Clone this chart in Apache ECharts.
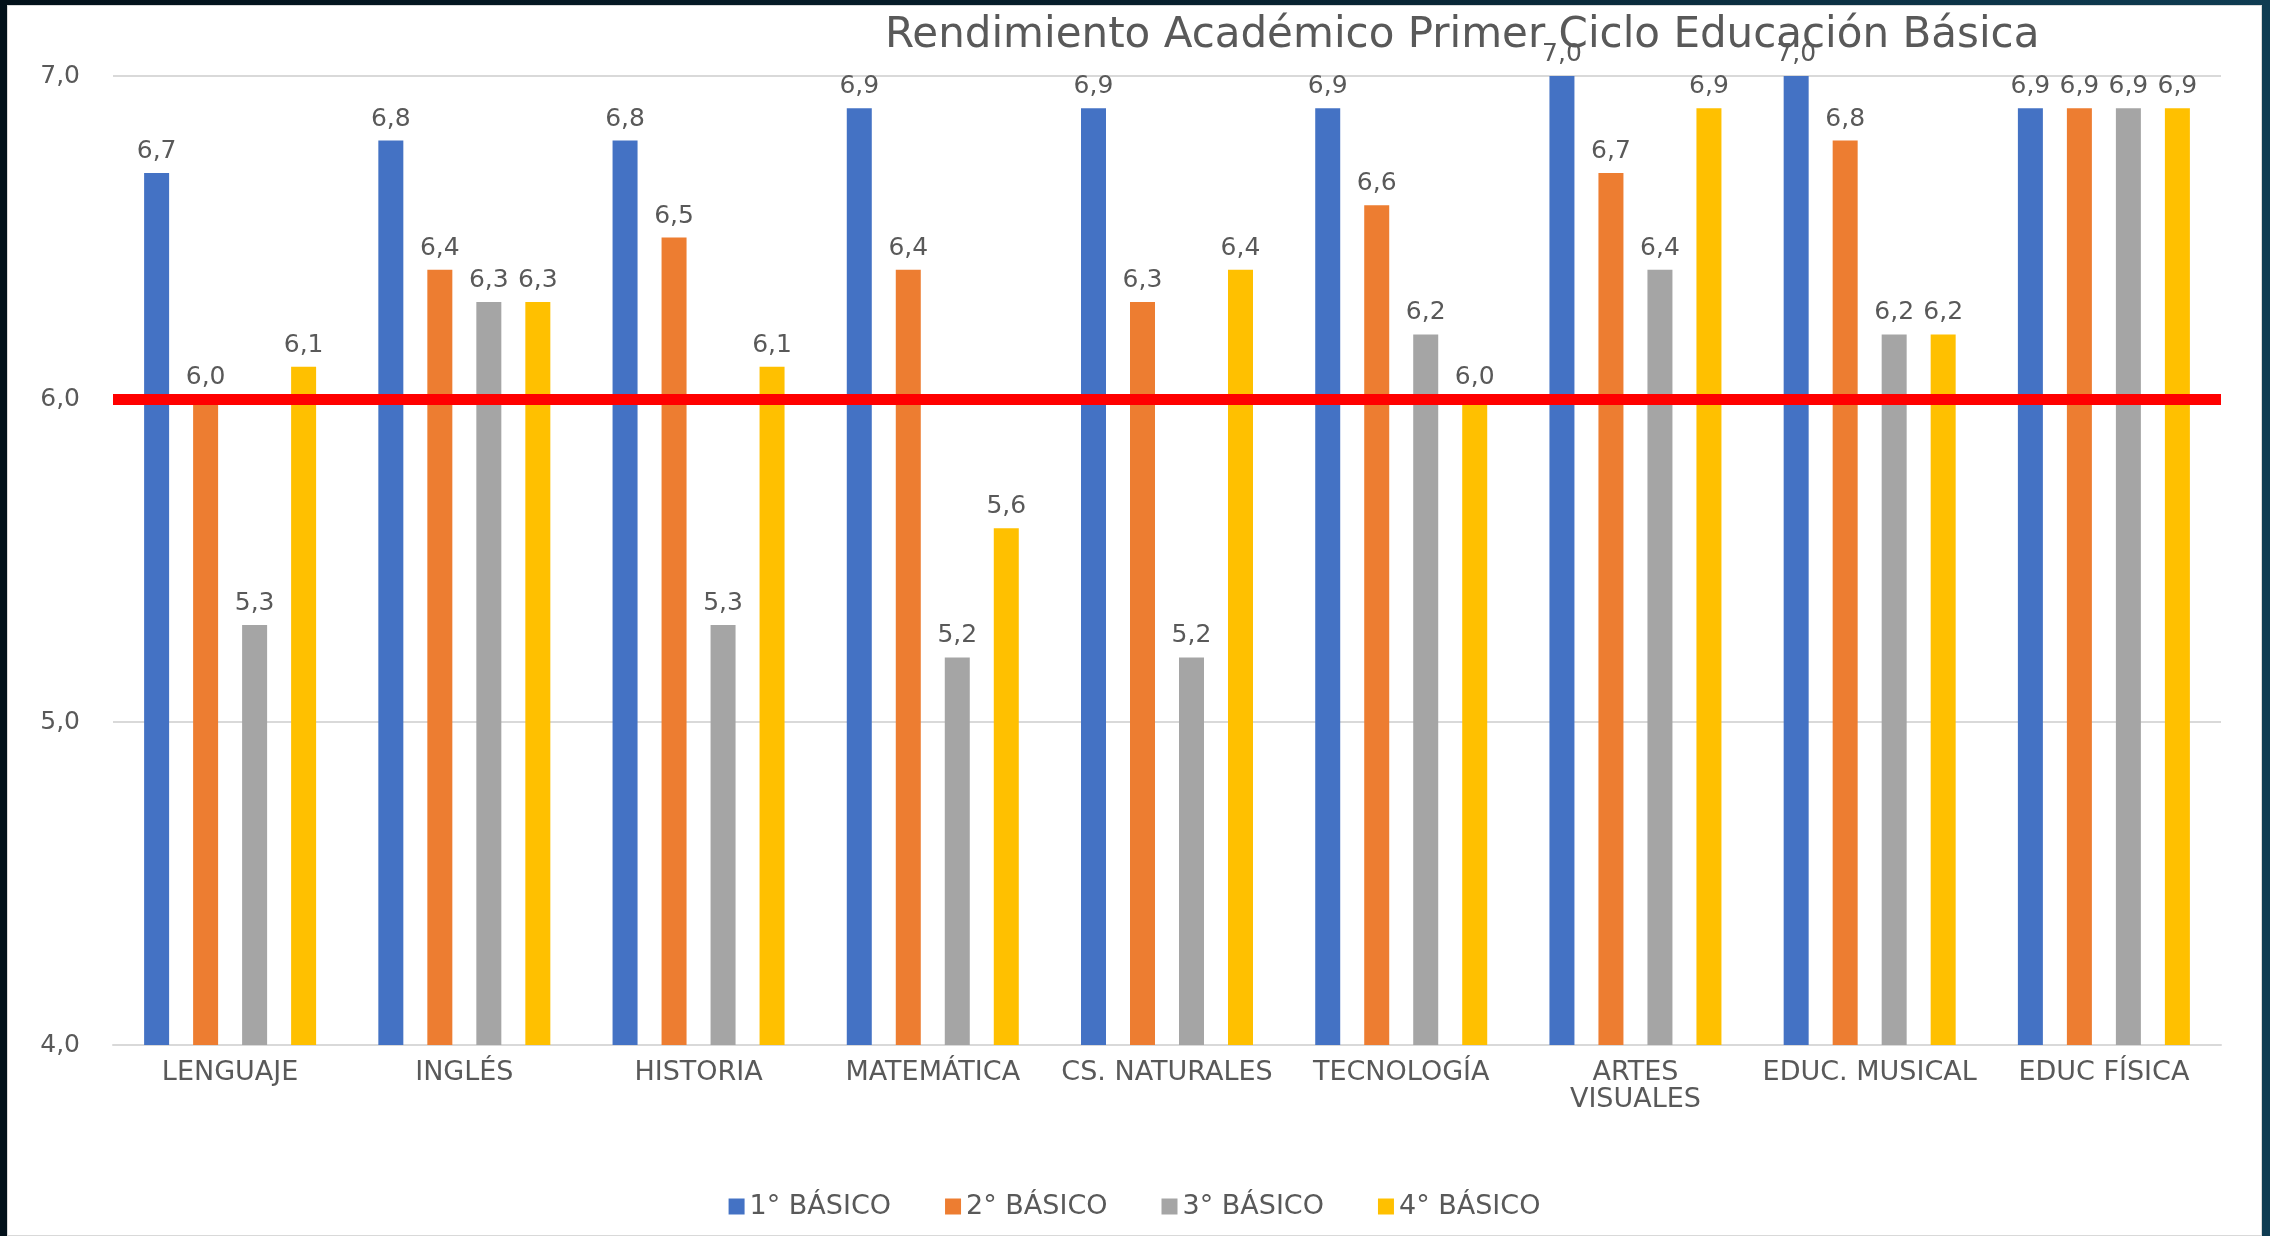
<!DOCTYPE html>
<html>
<head>
<meta charset="utf-8">
<script src="https://cdn.jsdelivr.net/npm/echarts@6/dist/echarts.min.js"></script>
<style>
  html, body { margin: 0; padding: 0; }
  body {
    width: 2270px; height: 1236px; overflow: hidden;
    background: linear-gradient(90deg, #02111a 0%, #071f2c 50%, #0f3c52 100%);
  }
  #chart {
    position: absolute; left: 7px; top: 5px;
    width: 2255px; height: 1231px;
    background: #ffffff; box-sizing: border-box;
    border: 1px solid #d9d9d9;
  }
</style>
</head>
<body>
<div id="chart"></div>
<script>
// chart data
const categories = ['LENGUAJE', 'INGLÉS', 'HISTORIA', 'MATEMÁTICA', 'CS. NATURALES',
  'TECNOLOGÍA', 'ARTES\nVISUALES', 'EDUC. MUSICAL', 'EDUC FÍSICA'];
const seriesNames = ['1° BÁSICO', '2° BÁSICO', '3° BÁSICO', '4° BÁSICO'];
const basico1 = [6.7, 6.8, 6.8, 6.9, 6.9, 6.9, 7.0, 7.0, 6.9];
const basico2 = [6.0, 6.4, 6.5, 6.4, 6.3, 6.6, 6.7, 6.8, 6.9];
const basico3 = [5.3, 6.3, 5.3, 5.2, 5.2, 6.2, 6.4, 6.2, 6.9];
const basico4 = [6.1, 6.3, 6.1, 5.6, 6.4, 6.0, 6.9, 6.2, 6.9];
const passMark = 6.0;

const colors = ['#4472C4', '#ED7D31', '#A5A5A5', '#FFC000'];
const textColor = '#595959';
const font = 'DejaVu Sans';
const fmt = (v) => v.toFixed(1).replace('.', ',');

const chart = echarts.init(document.getElementById('chart'));

const series = [basico1, basico2, basico3, basico4].map((data, i) => ({
  name: seriesNames[i],
  type: 'bar',
  data,
  barWidth: 25,
  barGap: '96%',
  itemStyle: { color: colors[i] },
  label: {
    show: true,
    position: 'top',
    distance: 9,
    color: textColor,
    fontFamily: font,
    fontSize: 25,
    formatter: (p) => fmt(p.value),
  },
}));

// red pass-mark line
series[0].markLine = {
  silent: true,
  symbol: ['none', 'none'],
  label: { show: false },
  lineStyle: { color: '#FF0000', width: 11, type: 'solid' },
  data: [{ yAxis: passMark }],
  z: 10,
};

chart.setOption({
  animation: false,
  color: colors,
  title: {
    text: 'Rendimiento Académico Primer Ciclo Educación Básica',
    left: 872,
    top: 4,
    textStyle: { color: textColor, fontFamily: font, fontWeight: 'normal', fontSize: 42 },
  },
  legend: {
    data: seriesNames,
    bottom: 10,
    left: 'center',
    itemWidth: 16,
    itemHeight: 16,
    itemGap: 54,
    icon: 'rect',
    textStyle: { color: textColor, fontFamily: font, fontSize: 27 },
  },
  grid: { left: 105, right: 40, top: 70, bottom: 190 },
  xAxis: {
    type: 'category',
    data: categories,
    axisTick: { show: false },
    axisLine: { lineStyle: { color: '#d9d9d9', width: 2 } },
    axisLabel: {
      color: textColor, fontFamily: font, fontSize: 27, margin: 14,
      interval: 0, lineHeight: 27,
    },
  },
  yAxis: {
    type: 'value',
    min: 4,
    max: 7,
    interval: 1,
    axisLine: { show: false },
    axisTick: { show: false },
    splitLine: { lineStyle: { color: '#d9d9d9', width: 2 } },
    axisLabel: {
      color: textColor, fontFamily: font, fontSize: 25, margin: 33,
      formatter: fmt,
    },
  },
  series,
});
</script>
</body>
</html>
